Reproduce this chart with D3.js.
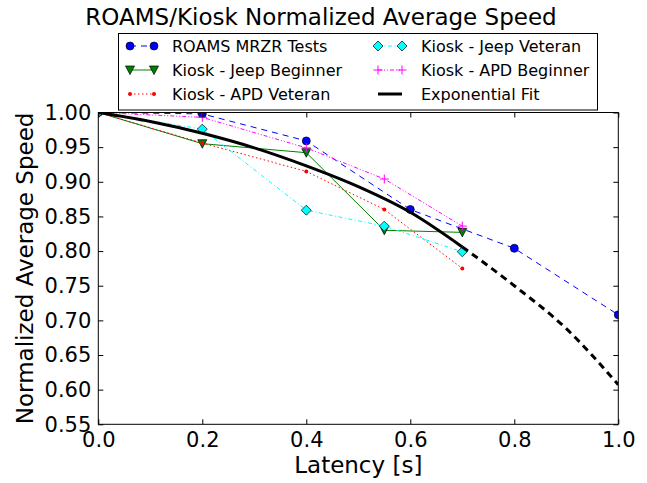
<!DOCTYPE html>
<html>
<head>
<meta charset="utf-8">
<script src="https://cdn.jsdelivr.net/npm/d3@7"></script>
<style>
  body { margin: 0; background: #fff; }
  svg { display: block; font-family: "DejaVu Sans", sans-serif; }
  .tick line { stroke: #000; }
</style>
</head>
<body>
<svg id="chart" width="647" height="483"></svg>
<script>
// values
var latencyRoams = [0, 0.2, 0.4, 0.6, 0.8, 1.0];
var speedRoams = [1.0, 0.998, 0.959, 0.860, 0.804, 0.708];

var latencyKiosk = [0, 0.2, 0.4, 0.55, 0.7];
var speedJeepBeginner = [1.0, 0.955, 0.942, 0.830, 0.827];
var speedApdVeteran = [1.0, 0.956, 0.915, 0.860, 0.775];
var speedJeepVeteran = [1.0, 0.976, 0.859, 0.836, 0.799];
var speedApdBeginner = [1.0, 0.993, 0.949, 0.904, 0.836];

// exponential fit, solid up to 0.7 then dashed
var latencyFit = [0, 0.1, 0.2, 0.3, 0.4, 0.5, 0.6, 0.7, 0.8, 0.9, 1.0];
var speedFit = [1.0, 0.987, 0.970, 0.949, 0.923, 0.893, 0.856, 0.806, 0.750, 0.688, 0.607];
var fitSolidEnd = 0.7;

var xTicks = [0, 0.2, 0.4, 0.6, 0.8, 1.0];
var yTicks = [0.55, 0.60, 0.65, 0.70, 0.75, 0.80, 0.85, 0.90, 0.95, 1.00];

var zip = function(xs, ys){ return xs.map(function(x, i){ return [x, ys[i]]; }); };

var series = [
  {name: "ROAMS MRZR Tests", pts: zip(latencyRoams, speedRoams), color: "#0000ff", dash: "6,5", marker: "circle"},
  {name: "Kiosk - Jeep Beginner", pts: zip(latencyKiosk, speedJeepBeginner), color: "#008000", dash: null, marker: "tri"},
  {name: "Kiosk - APD Veteran", pts: zip(latencyKiosk, speedApdVeteran), color: "#ff0000", dash: "1.5,2.5", marker: "dot"},
  {name: "Kiosk - Jeep Veteran", pts: zip(latencyKiosk, speedJeepVeteran), color: "#00ffff", dash: "4,2.5,1,2.5", marker: "diamond"},
  {name: "Kiosk - APD Beginner", pts: zip(latencyKiosk, speedApdBeginner), color: "#ff00ff", dash: "4,2,1,2,1,2", marker: "plus"}
];

var svg = d3.select("#chart");
var plotLeft = 98.3, plotRight = 618.3, plotTop = 112.5, plotBottom = 424.3;

var x = d3.scaleLinear().domain([0, 1]).range([plotLeft, plotRight]);
var y = d3.scaleLinear().domain([0.55, 1.0]).range([plotBottom, plotTop]);

svg.append("clipPath").attr("id", "plotclip")
  .append("rect").attr("x", plotLeft).attr("y", plotTop)
  .attr("width", plotRight - plotLeft).attr("height", plotBottom - plotTop);

var plot = svg.append("g").attr("clip-path", "url(#plotclip)");
var line = d3.line().x(function(d){ return x(d[0]); }).y(function(d){ return y(d[1]); });

function drawMarker(g, kind, color) {
  if (kind === "circle") {
    g.append("circle").attr("r", 4).attr("fill", color).attr("stroke", "#000").attr("stroke-width", 0.7);
  } else if (kind === "tri") {
    g.append("path").attr("d", "M-4.5,-4L4.5,-4L0,4.5Z").attr("fill", color).attr("stroke", "#000").attr("stroke-width", 0.7);
  } else if (kind === "dot") {
    g.append("circle").attr("r", 2).attr("fill", color);
  } else if (kind === "diamond") {
    g.append("path").attr("d", "M0,-5L5,0L0,5L-5,0Z").attr("fill", color).attr("stroke", "#000").attr("stroke-width", 0.7);
  } else if (kind === "plus") {
    g.append("path").attr("d", "M-4.5,0L4.5,0M0,-4.5L0,4.5").attr("stroke", color).attr("stroke-width", 1);
  }
}

series.forEach(function(s){
  plot.append("path").attr("d", line(s.pts)).attr("fill", "none")
    .attr("stroke", s.color).attr("stroke-width", 1)
    .attr("stroke-dasharray", s.dash);
  s.pts.forEach(function(p){
    var g = plot.append("g").attr("transform", "translate(" + x(p[0]) + "," + y(p[1]) + ")");
    drawMarker(g, s.marker, s.color);
  });
});

var fitPts = zip(latencyFit, speedFit);
var fitLine = d3.line().curve(d3.curveMonotoneX)
  .x(function(d){ return x(d[0]); }).y(function(d){ return y(d[1]); });
plot.append("path").attr("d", fitLine(fitPts.filter(function(p){ return p[0] <= fitSolidEnd; })))
  .attr("fill", "none").attr("stroke", "#000").attr("stroke-width", 3);
plot.append("path").attr("d", fitLine(fitPts.filter(function(p){ return p[0] >= fitSolidEnd; })))
  .attr("fill", "none").attr("stroke", "#000").attr("stroke-width", 3)
  .attr("stroke-dasharray", "7,5");

// axes, ticks pointing inward on all four sides
var fs = "21px";
var bx = svg.append("g").attr("transform", "translate(0," + plotBottom + ")")
  .call(d3.axisBottom(x).tickValues(xTicks).tickFormat(d3.format(".1f")).tickSizeInner(-5).tickSizeOuter(0).tickPadding(8));
var tx = svg.append("g").attr("transform", "translate(0," + plotTop + ")")
  .call(d3.axisTop(x).tickValues(xTicks).tickFormat("").tickSizeInner(-5).tickSizeOuter(0));
var ly = svg.append("g").attr("transform", "translate(" + plotLeft + ",0)")
  .call(d3.axisLeft(y).tickValues(yTicks).tickFormat(d3.format(".2f")).tickSizeInner(-5).tickSizeOuter(0).tickPadding(7));
var ry = svg.append("g").attr("transform", "translate(" + plotRight + ",0)")
  .call(d3.axisRight(y).tickValues(yTicks).tickFormat("").tickSizeInner(-5).tickSizeOuter(0));
[bx, tx, ly, ry].forEach(function(a){
  a.select(".domain").remove();
  a.selectAll("text").attr("fill", "#000").style("font-size", fs).style("font-family", "DejaVu Sans");
});

svg.append("rect").attr("x", plotLeft).attr("y", plotTop)
  .attr("width", plotRight - plotLeft).attr("height", plotBottom - plotTop)
  .attr("fill", "none").attr("stroke", "#000").attr("stroke-width", 1);

// labels
svg.append("text").attr("x", 321).attr("y", 25).attr("text-anchor", "middle")
  .style("font-size", "23px").text("ROAMS/Kiosk Normalized Average Speed");
svg.append("text").attr("x", (plotLeft + plotRight) / 2).attr("y", 473).attr("text-anchor", "middle")
  .style("font-size", "23px").text("Latency [s]");
svg.append("text").attr("transform", "translate(33," + ((plotTop + plotBottom) / 2) + ") rotate(-90)")
  .attr("text-anchor", "middle").style("font-size", "23px").text("Normalized Average Speed");

// legend, two columns filled top-down
var legendItems = series.concat([{name: "Exponential Fit", color: "#000", dash: null, marker: null, width: 3}]);
var legend = svg.append("g");
legend.append("rect").attr("x", 118.5).attr("y", 33.5).attr("width", 479).attr("height", 76.5)
  .attr("fill", "#fff").attr("stroke", "#000").attr("stroke-width", 1);
legendItems.forEach(function(s, i){
  var col = Math.floor(i / 3), row = i % 3;
  var hx = col === 0 ? 130 : 378;
  var tx0 = col === 0 ? 172 : 421;
  var cy = 46 + row * 24;
  legend.append("line").attr("x1", hx).attr("x2", hx + 24).attr("y1", cy).attr("y2", cy)
    .attr("stroke", s.color).attr("stroke-width", s.width || 1).attr("stroke-dasharray", s.dash);
  if (s.marker) {
    [hx, hx + 24].forEach(function(mx){
      drawMarker(legend.append("g").attr("transform", "translate(" + mx + "," + cy + ")"), s.marker, s.color);
    });
  }
  legend.append("text").attr("x", tx0).attr("y", cy + 5.8).style("font-size", "16px").text(s.name);
});
</script>
</body>
</html>
